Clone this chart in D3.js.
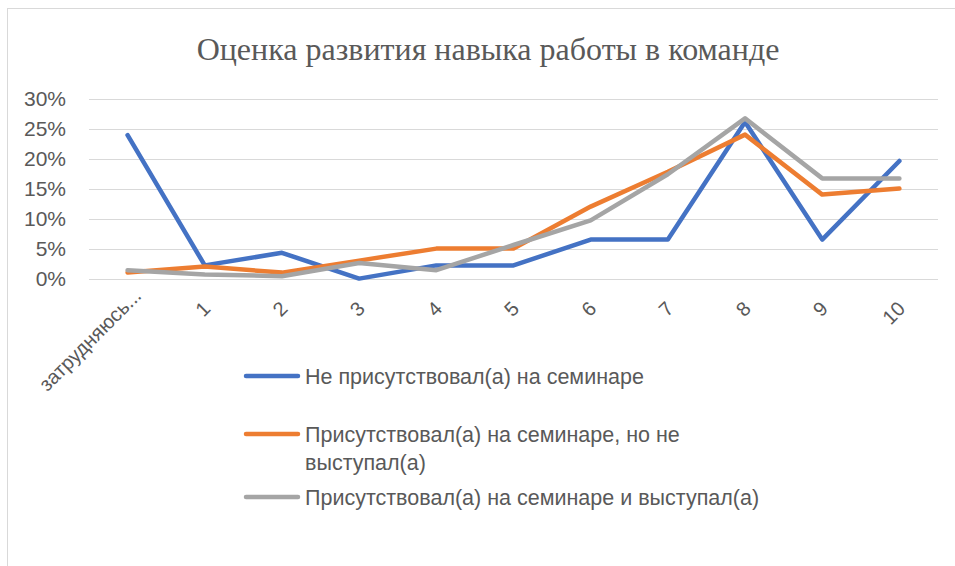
<!DOCTYPE html>
<meta charset="utf-8">
<style>
    body { margin: 0; background: #fff; }
    text { font-family: "Liberation Sans", Arial, sans-serif; fill: #595959; }
    .grid line { stroke: #d9d9d9; stroke-width: 1; }
</style>
<svg id="chart" width="955" height="566"></svg>
<script src="https://cdnjs.cloudflare.com/ajax/libs/d3/7.8.5/d3.min.js"></script>
<script>

    var categories = ["затрудняюсь...", "1", "2", "3", "4", "5", "6", "7", "8", "9", "10"];
    var seriesNames = [
        "Не присутствовал(а) на семинаре",
        "Присутствовал(а) на семинаре, но не выступал(а)",
        "Присутствовал(а) на семинаре и выступал(а)"
    ];
    var notAttended = [23.9, 2.2, 4.3, 0, 2.2, 2.2, 6.5, 6.5, 26.1, 6.5, 19.6];
    var attendedSilent = [1, 2, 1, 3, 5, 5, 12, 17.8, 24, 14, 15];
    var attendedSpoke = [1.4, 0.7, 0.4, 2.6, 1.4, 5.6, 9.7, 17.4, 26.7, 16.7, 16.7];
    var yTicks = [0, 5, 10, 15, 20, 25, 30];
    var colors = ["#4472c4", "#ed7d31", "#a5a5a5"];

    var svg = d3.select("#chart");

    // outer chart frame (runs off the right and bottom edges)
    svg.append("rect")
        .attr("x", 7.5).attr("y", 8.5)
        .attr("width", 1000).attr("height", 600)
        .attr("fill", "none")
        .attr("stroke", "#d9d9d9");

    svg.append("text")
        .attr("x", 488).attr("y", 60)
        .attr("text-anchor", "middle")
        .style("font-family", "'Liberation Serif', 'Times New Roman', serif")
        .style("font-size", "32px")
        .text("Оценка развития навыка работы в команде");

    var x = d3.scalePoint().domain(categories).range([89, 938]).padding(0.5);
    var y = d3.scaleLinear().domain([0, 30]).range([278.6, 98.6]);

    var grid = svg.append("g").attr("class", "grid");
    grid.selectAll("line")
        .data(yTicks)
        .enter().append("line")
        .attr("x1", 89).attr("x2", 938)
        .attr("y1", d => Math.round(y(d)) + 0.5)
        .attr("y2", d => Math.round(y(d)) + 0.5);

    var yAxis = svg.append("g")
        .attr("transform", "translate(66,0)")
        .call(d3.axisLeft(y).tickValues(yTicks).tickSize(0).tickPadding(0)
            .tickFormat(d => d + "%"));
    yAxis.select(".domain").remove();
    yAxis.selectAll("text")
        .style("font-size", "21px")
        .attr("fill", "#595959");

    var xAxis = svg.append("g")
        .call(d3.axisBottom(x).tickSize(0).tickPadding(0));
    xAxis.select(".domain").remove();
    // excel puts the long truncated label a bit higher than the short ones
    xAxis.selectAll(".tick")
        .attr("transform", d => "translate(" + (x(d) + (d.length > 3 ? 10 : 2)) + "," + (d.length > 3 ? 292 : 305) + ")");
    xAxis.selectAll("text")
        .style("font-size", "20px")
        .attr("fill", "#595959")
        .attr("text-anchor", "end")
        .attr("y", 0)
        .attr("dy", "0.35em")
        .attr("transform", "rotate(-45)");

    var data = [notAttended, attendedSilent, attendedSpoke];

    var line = d3.line()
        .x((d, i) => x(categories[i]))
        .y(d => y(d));

    svg.append("g")
        .selectAll("path")
        .data(data)
        .enter().append("path")
        .attr("d", line)
        .attr("fill", "none")
        .attr("stroke", (d, i) => colors[i])
        .attr("stroke-width", 4.5)
        .attr("stroke-linejoin", "round")
        .attr("stroke-linecap", "round");

    // legend
    var legendItems = [
        {lines: [seriesNames[0]], y: 376},
        {lines: ["Присутствовал(а) на семинаре, но не", "выступал(а)"], y: 434},
        {lines: [seriesNames[2]], y: 497}
    ];

    var legend = svg.append("g")
        .selectAll("g")
        .data(legendItems)
        .enter().append("g")
        .attr("transform", d => "translate(0," + d.y + ")");

    legend.append("line")
        .attr("x1", 246).attr("x2", 298)
        .attr("y1", 0).attr("y2", 0)
        .attr("stroke", (d, i) => colors[i])
        .attr("stroke-width", 4.5)
        .attr("stroke-linecap", "round");

    legend.append("text")
        .attr("x", 305)
        .attr("y", 0)
        .style("font-size", "21.5px")
        .selectAll("tspan")
        .data(d => d.lines)
        .enter().append("tspan")
        .attr("x", 305)
        .attr("dy", (d, i) => i === 0 ? "0.35em" : 28)
        .text(d => d);

</script>
